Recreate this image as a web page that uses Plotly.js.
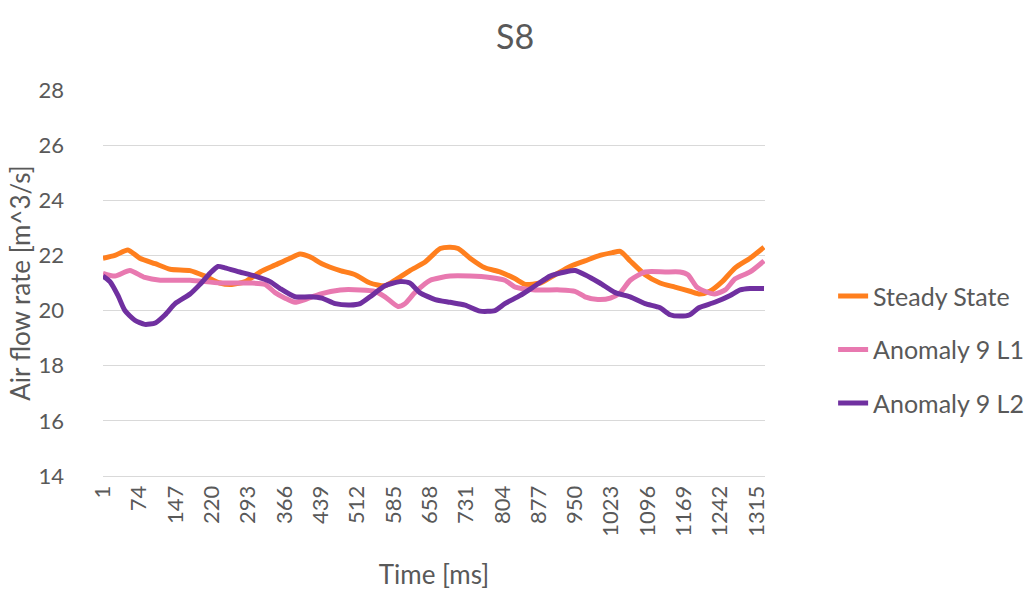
<!DOCTYPE html>
<html>
<head>
<meta charset="utf-8">
<script src="https://cdn.plot.ly/plotly-3.0.1.min.js"></script>
<style>html,body{margin:0;padding:0;background:#fff;}#chart{width:1026px;height:590px;}</style>
</head>
<body>
<div id="chart"></div>
<script>
// Tick labels on the time axis
const tickTimes = [1, 74, 147, 220, 293, 366, 439, 512, 585, 658, 731, 804, 877, 950, 1023, 1096, 1169, 1242, 1315];

// Steady State
const steadyTime = [1, 25, 51, 75, 106, 136, 176, 206, 236, 260, 287, 317, 347, 377, 397, 417, 441, 478, 508, 538, 568, 588, 618, 648, 679, 699, 715, 739, 769, 799, 830, 850, 880, 910, 940, 970, 1000, 1025, 1041, 1061, 1091, 1121, 1151, 1181, 1201, 1221, 1246, 1272, 1302, 1330];
const steadyVals = [21.9, 22.0, 22.2, 21.9, 21.7, 21.5, 21.45, 21.25, 21.0, 20.95, 21.05, 21.4, 21.65, 21.9, 22.05, 21.95, 21.7, 21.45, 21.3, 21.0, 20.9, 21.1, 21.45, 21.75, 22.25, 22.3, 22.25, 21.9, 21.55, 21.4, 21.15, 20.95, 21.0, 21.3, 21.6, 21.8, 22.0, 22.1, 22.15, 21.8, 21.3, 21.0, 20.85, 20.7, 20.6, 20.7, 21.05, 21.55, 21.9, 22.3];

// Anomaly 9 L1
const l1Time = [1, 25, 55, 85, 116, 176, 236, 297, 327, 347, 367, 387, 407, 437, 478, 518, 548, 568, 594, 608, 628, 659, 699, 739, 779, 809, 830, 870, 920, 950, 970, 996, 1021, 1041, 1061, 1091, 1131, 1161, 1177, 1195, 1211, 1231, 1252, 1272, 1302, 1330];
const l1Vals = [21.35, 21.25, 21.45, 21.2, 21.1, 21.1, 21.0, 21.0, 20.95, 20.65, 20.45, 20.3, 20.4, 20.6, 20.75, 20.75, 20.7, 20.5, 20.15, 20.25, 20.65, 21.1, 21.25, 21.25, 21.2, 21.1, 20.85, 20.75, 20.75, 20.7, 20.5, 20.4, 20.45, 20.65, 21.1, 21.4, 21.4, 21.4, 21.3, 20.85, 20.7, 20.6, 20.75, 21.15, 21.4, 21.8];

// Anomaly 9 L2
const l2Time = [1, 15, 31, 45, 65, 85, 106, 126, 146, 176, 196, 216, 232, 246, 276, 307, 337, 357, 387, 417, 441, 468, 498, 518, 538, 568, 598, 618, 638, 669, 699, 729, 759, 789, 809, 840, 870, 900, 930, 950, 970, 1000, 1031, 1061, 1091, 1121, 1141, 1161, 1181, 1199, 1231, 1262, 1282, 1302, 1330];
const l2Vals = [21.25, 21.05, 20.55, 20.0, 19.65, 19.5, 19.55, 19.85, 20.25, 20.6, 20.95, 21.35, 21.6, 21.55, 21.4, 21.25, 21.05, 20.8, 20.5, 20.5, 20.45, 20.25, 20.2, 20.25, 20.5, 20.9, 21.05, 21.0, 20.65, 20.4, 20.3, 20.2, 19.98, 20.0, 20.25, 20.55, 20.9, 21.25, 21.4, 21.45, 21.3, 21.0, 20.65, 20.5, 20.25, 20.1, 19.85, 19.8, 19.85, 20.1, 20.3, 20.55, 20.75, 20.8, 20.8];

const FONT = "Lato, 'Open Sans', sans-serif";
const GREY = "#595959";

const traces = [
  {x: steadyTime, y: steadyVals, name: "Steady State", mode: "lines", line: {color: "#FF7F1E", width: 5, shape: "spline", smoothing: 0.6}, legendgroup: "a"},
  {x: l1Time, y: l1Vals, name: "Anomaly 9 L1", mode: "lines", line: {color: "#E879B0", width: 5, shape: "spline", smoothing: 0.6}, legendgroup: "b"},
  {x: l2Time, y: l2Vals, name: "Anomaly 9 L2", mode: "lines", line: {color: "#7030A0", width: 5, shape: "spline", smoothing: 0.6}, legendgroup: "c"}
];

const layout = {
  width: 1026, height: 590,
  margin: {l: 103, r: 261, t: 90, b: 114, autoexpand: false},
  paper_bgcolor: "#fff", plot_bgcolor: "#fff",
  font: {family: FONT, color: GREY},
  title: {text: "S8", x: 0.502, xanchor: "center", y: 0.937, yanchor: "middle", font: {size: 34, color: GREY, family: FONT}},
  xaxis: {
    range: [1, 1332], automargin: false,
    tickmode: "array", tickvals: tickTimes, ticktext: tickTimes.map(String),
    tickangle: -90, tickfont: {size: 22, color: GREY},
    showgrid: false, zeroline: false,
    showline: true, linecolor: "#D9D9D9", linewidth: 1,
    ticks: "", ticklen: 0,
    title: {text: "Time [ms]", font: {size: 26, color: GREY}, standoff: 30}
  },
  yaxis: {
    range: [14, 28], tickvals: [14, 16, 18, 20, 22, 24, 26, 28], automargin: false,
    tickfont: {size: 22, color: GREY}, ticklabelstandoff: 38,
    showgrid: true, gridcolor: "#D9D9D9", gridwidth: 1,
    zeroline: false, showline: false, ticks: "", ticklen: 0,
    title: {text: "Air flow rate [m^3/s]", font: {size: 26, color: GREY}, standoff: 0}
  },
  showlegend: true,
  legend: {
    xref: "container", yref: "container",
    x: 0.812, xanchor: "left", y: 0.537, yanchor: "top",
    font: {size: 25, color: GREY},
    tracegroupgap: 18, bgcolor: "rgba(0,0,0,0)"
  }
};

Plotly.newPlot("chart", traces, layout, {displayModeBar: false, staticPlot: true});
</script>
</body>
</html>
